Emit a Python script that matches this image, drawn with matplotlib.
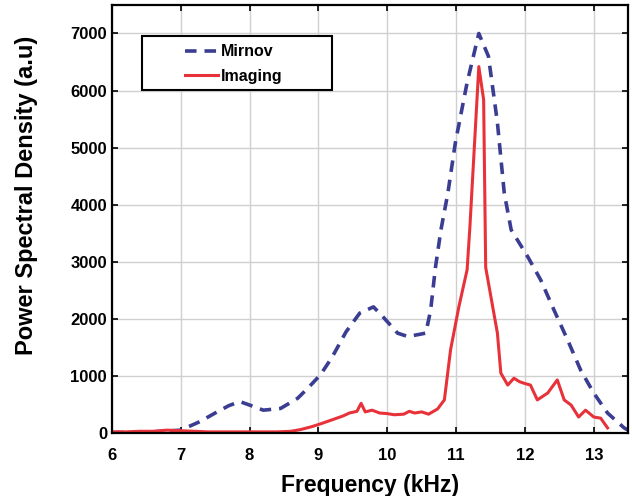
import numpy as np
import matplotlib.pyplot as plt
from matplotlib.patches import Rectangle

plt.rcParams['font.family'] = ['Liberation Sans', 'DejaVu Sans']
plt.rcParams['font.weight'] = 'bold'

# Mirnov coil spectrum (coarser sampling)
mirnov_f = [6.0, 6.3, 6.6, 7.0, 7.28, 7.5, 7.7, 7.86, 8.0, 8.2, 8.45, 8.7, 8.85,
            9.03, 9.2, 9.4, 9.6, 9.8, 9.95, 10.15, 10.3, 10.56, 10.63, 10.7,
            10.78, 10.88, 10.99, 11.16, 11.33, 11.47, 11.6, 11.7, 11.8, 12.04,
            12.23, 12.42, 12.62, 12.81, 13.0, 13.2, 13.44, 13.5]
mirnov_p = [10, 10, 20, 50, 200, 350, 480, 550, 490, 400, 430, 610, 790,
            1020, 1330, 1770, 2100, 2210, 2020, 1750, 1690, 1750, 2150, 2900,
            3560, 4200, 5090, 6140, 7000, 6600, 5440, 4200, 3560, 3090,
            2680, 2160, 1630, 1100, 700, 350, 90, 50]

# imaging spectrum
imaging_f = [6.0, 6.2, 6.4, 6.6, 6.8, 7.0, 7.2, 7.4, 7.6, 7.8, 8.0, 8.2, 8.4,
             8.6, 8.74, 8.9, 9.03, 9.22, 9.36, 9.45, 9.56, 9.62, 9.68, 9.78,
             9.89, 10.0, 10.1, 10.24, 10.32, 10.4, 10.5, 10.6, 10.73, 10.83,
             10.92, 11.04, 11.16, 11.2, 11.33, 11.4, 11.43, 11.6, 11.65, 11.75,
             11.84, 11.92, 11.99, 12.08, 12.18, 12.33, 12.47, 12.57, 12.67,
             12.78, 12.88, 13.0, 13.1, 13.2]
imaging_p = [20, 20, 30, 30, 50, 40, 30, 20, 20, 20, 20, 20, 20,
             30, 60, 110, 160, 240, 300, 350, 380, 520, 370, 400,
             350, 340, 320, 330, 380, 350, 370, 330, 420, 580,
             1460, 2210, 2860, 3600, 6420, 5840, 2900, 1750, 1050, 840,
             960, 900, 870, 840, 580, 700, 930, 580, 490,
             280, 400, 280, 260, 90]

fig = plt.figure(figsize=(6.32, 4.96), dpi=100)
ax = fig.add_axes([0.177, 0.127, 0.817, 0.863])

ax.plot(mirnov_f, mirnov_p, color='#3a3d92', linestyle=(0, (3.2, 2.2)),
        linewidth=2.6, label='Mirnov')
ax.plot(imaging_f, imaging_p, color='#e8323a', linewidth=2.2, label='Imaging')

ax.set_xlim(6, 13.5)
ax.set_ylim(0, 7500)
ax.set_xticks(np.arange(6, 14, 1))
ax.set_yticks(np.arange(0, 8000, 1000))
ax.grid(True, color='#d0d0d0', linewidth=1.0)
ax.set_axisbelow(True)
ax.tick_params(direction='in', top=True, right=True, labelsize=12,
               length=4, width=1.2)
ax.tick_params(axis='x', pad=11)
for lbl in ax.get_xticklabels() + ax.get_yticklabels():
    lbl.set_fontweight('bold')
for s in ax.spines.values():
    s.set_linewidth(1.6)

ax.set_xlabel('Frequency (kHz)', fontsize=16.5, fontweight='bold', labelpad=8)
ax.set_ylabel('Power Spectral Density (a.u)', fontsize=17, fontweight='bold')
ax.yaxis.set_label_coords(-0.143, 0.554)

# legend box, wider than its contents
ax.add_patch(Rectangle((0.058, 0.801), 0.368, 0.127, transform=ax.transAxes,
                       facecolor='white', edgecolor='black', linewidth=1.5,
                       zorder=4))
leg = ax.legend(loc='center', bbox_to_anchor=(0.236, 0.862), frameon=False,
                handlelength=2.1, borderpad=0, borderaxespad=0,
                handletextpad=0.2, labelspacing=0.6,
                prop={'weight': 'bold', 'size': 11.5})
leg.set_zorder(5)

fig.savefig('out.png', dpi=100)
